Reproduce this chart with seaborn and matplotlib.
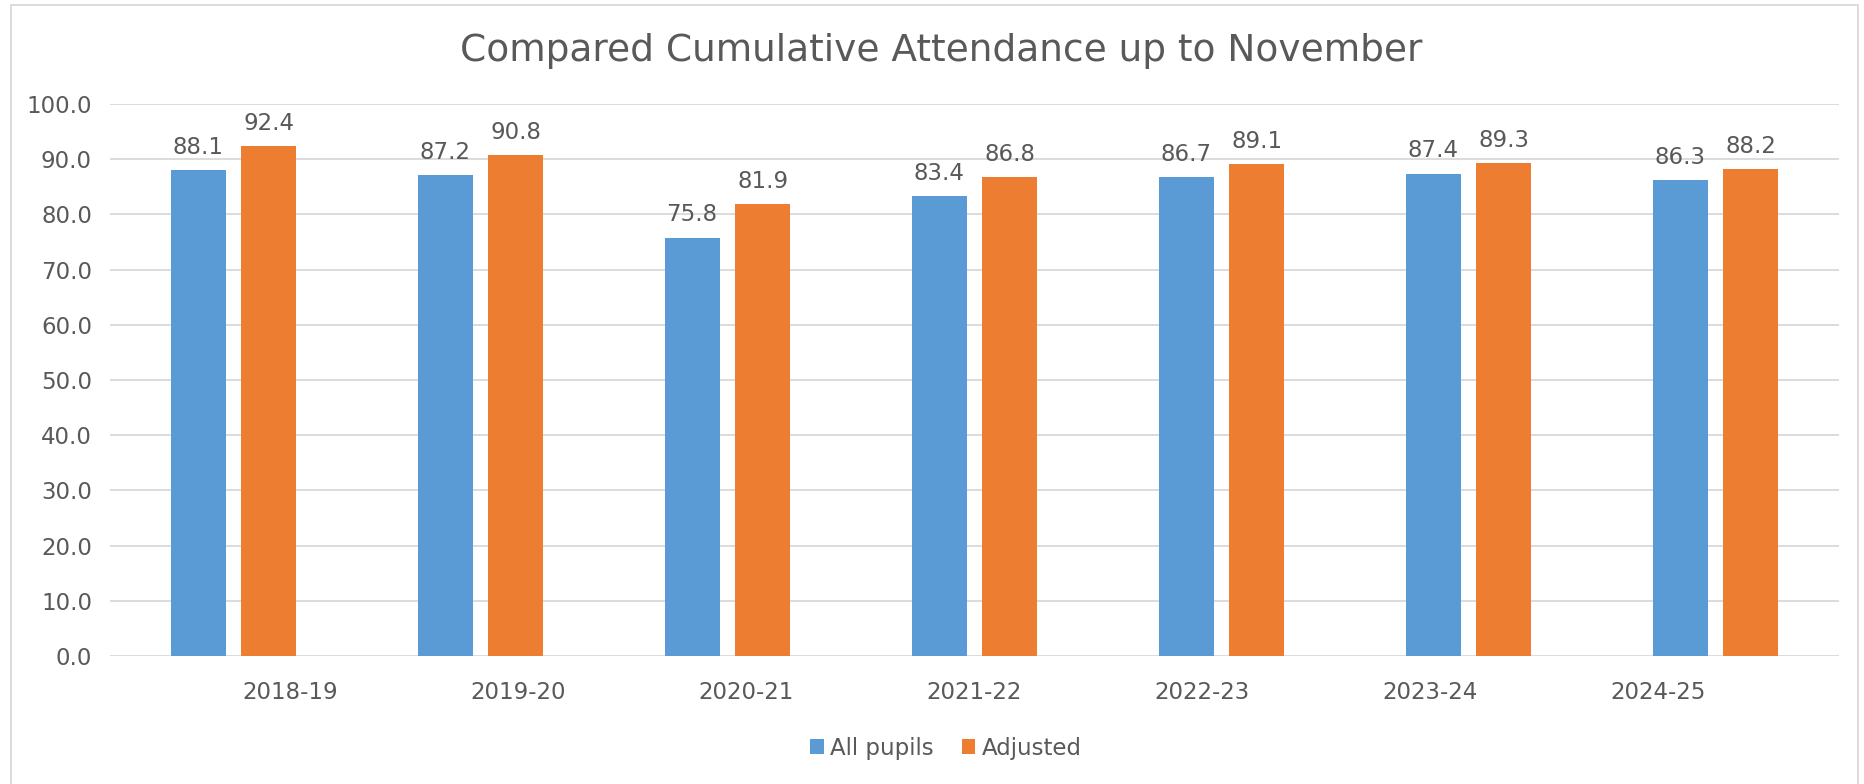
import matplotlib
matplotlib.use("Agg")
import matplotlib.pyplot as plt
from matplotlib.patches import Rectangle, Patch
import seaborn as sns
import numpy as np
import pandas as pd

years = ["2018-19", "2019-20", "2020-21", "2021-22", "2022-23", "2023-24", "2024-25"]
all_pupils = [88.1, 87.2, 75.8, 83.4, 86.7, 87.4, 86.3]
adjusted = [92.4, 90.8, 81.9, 86.8, 89.1, 89.3, 88.2]
series_names = ["All pupils", "Adjusted"]
colors = ["#5B9BD5", "#ED7D31"]
title = "Compared Cumulative Attendance up to November"
yticks = [0, 10, 20, 30, 40, 50, 60, 70, 80, 90, 100]

df = pd.DataFrame({
    "Year": years * 2,
    "Value": all_pupils + adjusted,
    "Series": [series_names[0]] * len(years) + [series_names[1]] * len(years),
})

sns.set_theme(style="white")
FONT = ["DejaVu Sans"]
plt.rcParams["font.family"] = FONT
TXT = "#595959"
GRID = "#D9D9D9"

fig = plt.figure(figsize=(18.65, 7.84), dpi=100)
fig.patch.set_facecolor("white")
ax = fig.add_axes([0.059, 0.1633, 0.927, 0.704])

sns.barplot(data=df, x="Year", y="Value", hue="Series", order=years,
            hue_order=series_names, palette=colors, width=0.572, gap=0.22,
            saturation=1, ax=ax, legend=False, edgecolor="none")

for cont in ax.containers:
    ax.bar_label(cont, fmt="%.1f", padding=8, fontsize=16.5, color=TXT)

ax.set_ylim(0, 100)
ax.set_xlim(-0.5, len(years) - 0.5)
ax.set_yticks(yticks)
ax.set_yticklabels([f"{v:.1f}" for v in yticks])
ax.yaxis.grid(True, color=GRID, linewidth=1.3)
ax.set_axisbelow(True)
for s in ax.spines.values():
    s.set_visible(False)
# Excel places the category labels on a slightly compressed spacing
n = len(years)
ax.set_xticks(3 + (np.arange(n) - 3) * 0.923)
ax.set_xticklabels(years)
ax.tick_params(axis="x", length=0, pad=18, labelsize=16.5, labelcolor=TXT)
ax.tick_params(axis="y", length=0, pad=13, labelsize=16.5, labelcolor=TXT)
ax.set_xlabel("")
ax.set_ylabel("")

fig.text(941 / 1865, 1 - 51 / 784, title, ha="center", va="center",
         fontsize=27, color=TXT)

handles = [Patch(facecolor=c, edgecolor="none") for c in colors]
fig.legend(handles, series_names, loc="center", bbox_to_anchor=(946 / 1865, 1 - 748 / 784),
           ncol=2, frameon=False, fontsize=16.5, labelcolor=TXT,
           handlelength=0.6, handleheight=0.6, handletextpad=0.3, columnspacing=1.2)

fig.patches.append(Rectangle((11 / 1865, -0.02), (1858 - 11) / 1865, 1.02 - 5 / 784,
                             transform=fig.transFigure, fill=False,
                             edgecolor=GRID, linewidth=1.3))

fig.savefig("out.png", dpi=100, facecolor="white")
